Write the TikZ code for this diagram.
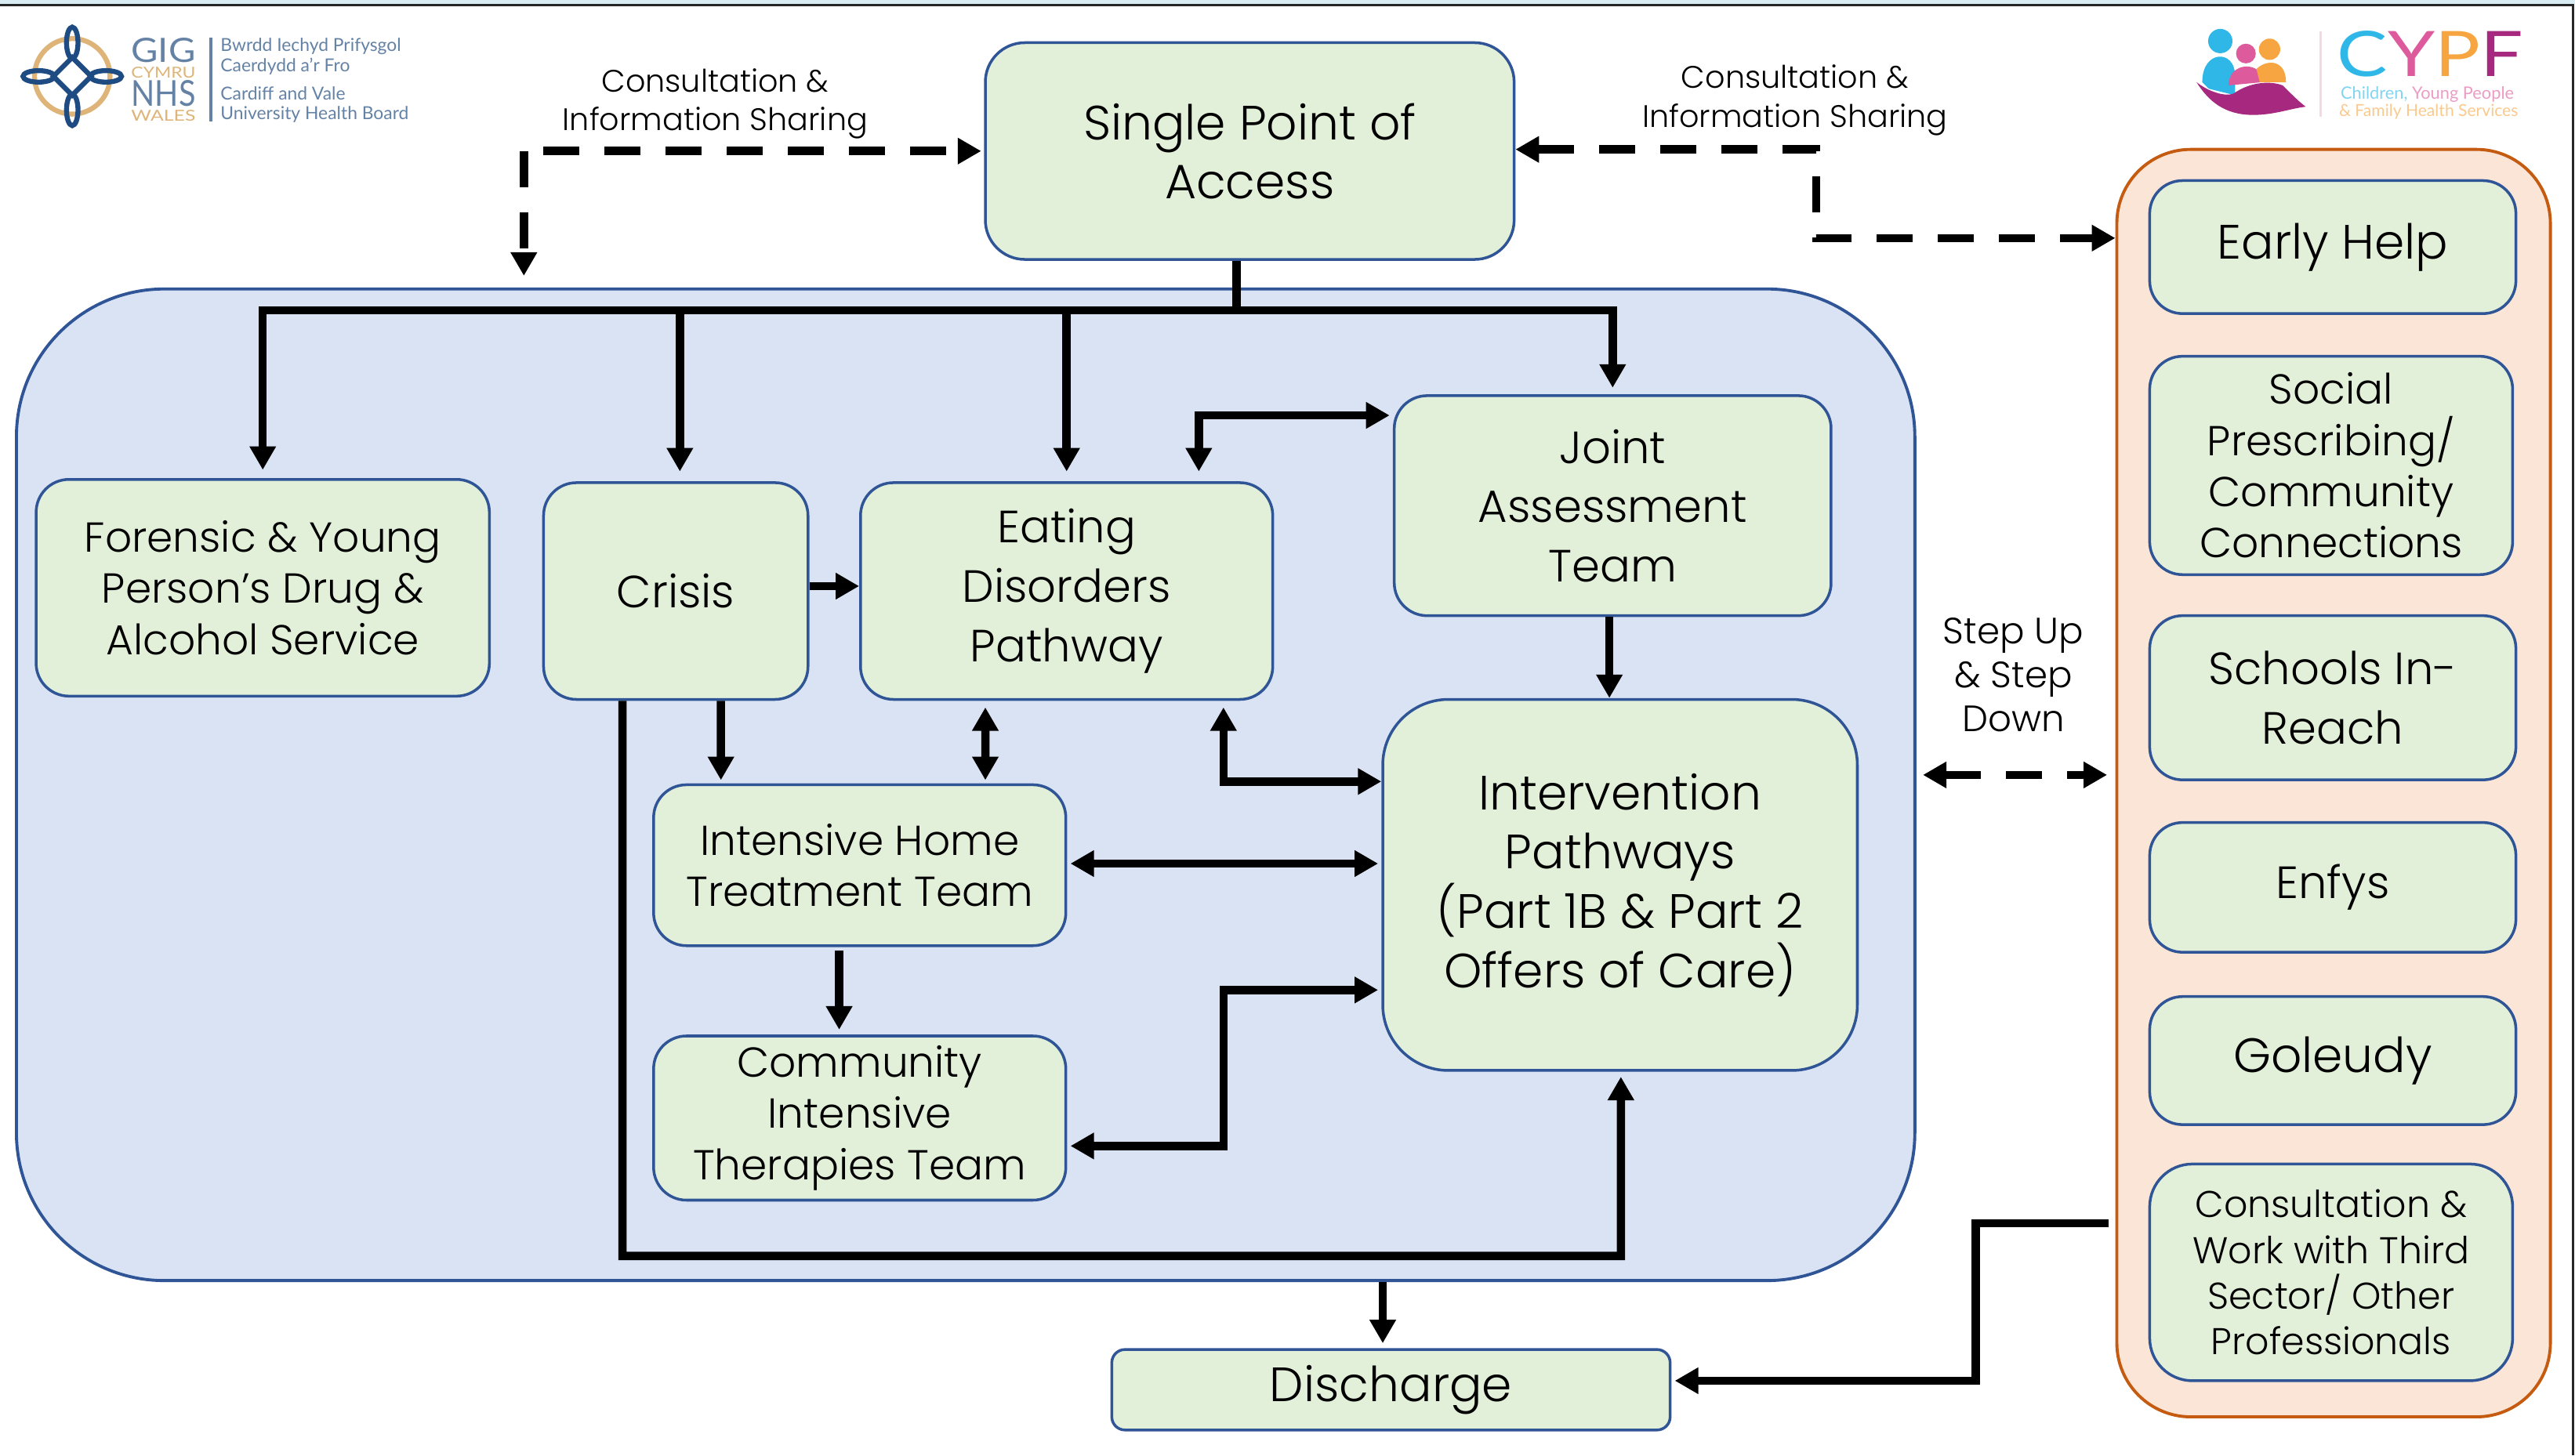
\documentclass[tikz,border=0pt]{standalone}
\usepackage{xcolor}
\usepackage{fontspec}
\usepackage{tikz}
\usetikzlibrary{arrows.meta}
\setmainfont{Poppins}[UprightFont=*-Light]
\newfontfamily\logofont{Lato}
\definecolor{boxblue}{RGB}{47,85,151}
\definecolor{boxgreen}{RGB}{226,240,217}
\definecolor{panelblue}{RGB}{218,227,243}
\definecolor{panelorange}{RGB}{251,229,214}
\definecolor{edgeorange}{RGB}{197,90,17}
\definecolor{barblue}{RGB}{218,236,243}
\definecolor{logoslate}{RGB}{100,130,165}
\definecolor{logotan}{RGB}{222,180,120}
\definecolor{logonavy}{RGB}{30,75,130}
\definecolor{cypfblue}{RGB}{47,183,232}
\definecolor{cypfpink}{RGB}{221,90,156}
\definecolor{cypforange}{RGB}{247,165,64}
\definecolor{cypfpurple}{RGB}{166,40,127}
\def\u{0.02095cm}
\tikzset{
  >={Triangle[length=0.3cm,width=0.32cm]},
  box/.style={draw=boxblue, fill=boxgreen, rectangle, line width=1pt, rounded corners=20*\u, align=center, inner sep=0pt},
  hugetext/.style={font=\fontsize{17.5}{21.5}\selectfont},
  bigtext/.style={font=\fontsize{16.4}{21.5}\selectfont},
  midtext/.style={font=\fontsize{15.2}{18.6}\selectfont},
  smalltext/.style={font=\fontsize{13.5}{16.6}\selectfont},
  labeltext/.style={font=\fontsize{11.3}{14}\selectfont, align=center, inner sep=0pt},
  logotext/.style={anchor=west, text=logoslate, inner sep=0pt, font=\logofont\fontsize{6.5}{7}\selectfont},
  link/.style={line width=3pt},
  dashlink/.style={line width=3pt, dash pattern=on 0.46cm off 0.32cm}
}
\begin{document}
\begin{tikzpicture}[x=\u, y=-\u]
\useasboundingbox (0,0) rectangle (1568,886.4);
% frame
\fill[barblue] (0,0) rectangle (1568,2.6);
\draw[black!85, line width=0.8pt] (0,3) -- (1566.8,3) -- (1566.8,886.4);

% panels
\node[draw=boxblue, fill=panelblue, rectangle, line width=1.1pt, rounded corners=90*\u, minimum width=1156*\u, minimum height=604*\u, inner sep=0pt] (services) at (588,478) {};
\node[draw=edgeorange, fill=panelorange, rectangle, line width=1.1pt, rounded corners=45*\u, minimum width=264*\u, minimum height=772*\u, inner sep=0pt] (cypf) at (1421,477) {};

% boxes
\node[box, hugetext, minimum width=322*\u, minimum height=132*\u, rounded corners=24*\u] (access) at (761,92) {Single Point of\\Access};
\node[box, midtext, minimum width=276*\u, minimum height=132*\u] (forensic) at (160,358) {Forensic \& Young\\Person’s Drug \&\\Alcohol Service};
\node[box, bigtext, minimum width=161*\u, minimum height=132*\u] (crisis) at (411.5,360) {Crisis};
\node[box, bigtext, minimum width=251*\u, minimum height=132*\u] (eating) at (649.5,360) {Eating\\Disorders\\Pathway};
\node[box, bigtext, minimum width=266*\u, minimum height=134*\u] (joint) at (982,308) {Joint\\Assessment\\Team};
\node[box, midtext, minimum width=251*\u, minimum height=98*\u] (home) at (523.5,527) {Intensive Home\\Treatment Team};
\node[box, midtext, minimum width=251*\u, minimum height=100*\u] (therapies) at (523.5,681) {Community\\Intensive\\Therapies Team};
\node[box, hugetext, minimum width=289*\u, minimum height=226*\u, rounded corners=40*\u] (intervention) at (986.5,539) {Intervention\\Pathways\\(Part 1B \& Part 2\\Offers of Care)};
\node[box, hugetext, minimum width=340*\u, minimum height=49*\u, rounded corners=8*\u] (discharge) at (847,846.5) {Discharge};
\node[box, hugetext, minimum width=223*\u, minimum height=81*\u] (earlyhelp) at (1420.5,150.5) {Early Help};
\node[box, midtext, minimum width=221*\u, minimum height=133*\u] (social) at (1419.5,283.5) {Social\\Prescribing/\\Community\\Connections};
\node[box, bigtext, minimum width=223*\u, minimum height=100*\u] (schools) at (1420.5,425) {Schools In-\\Reach};
\node[box, bigtext, minimum width=223*\u, minimum height=79*\u] (enfys) at (1420.5,540.5) {Enfys};
\node[box, hugetext, minimum width=223*\u, minimum height=78*\u] (goleudy) at (1420.5,646) {Goleudy};
\node[box, smalltext, minimum width=221*\u, minimum height=132*\u, rounded corners=26*\u] (thirdsector) at (1419.5,775) {Consultation \&\\Work with Third\\Sector/ Other\\Professionals};

% labels
\node[labeltext] (sharingleft) at (435.5,63) {Consultation \&\\Information Sharing};
\node[labeltext] (sharingright) at (1093,61) {Consultation \&\\Information Sharing};
\node[labeltext, font=\fontsize{13.3}{15.9}\selectfont] (stepping) at (1226,411) {Step Up\\\& Step\\Down};

% free ends
\coordinate (leftcorner) at (319,92);
\coordinate (leftstart) at (331,92);
\coordinate (leftend) at (319,168);
\coordinate (rightcorner) at (1106,91);
\coordinate (bus) at (753,189);
\coordinate (therapiesturn) at (745,603);
\coordinate (crisisturn) at (987,765);
\coordinate (thirdstart) at (1284,745);
\coordinate (thirdturn) at (1203,745);

% dashed links
\draw[dashlink, ->, shorten >=1pt] (leftstart) -- (access.west);
\draw[dashlink, ->] (leftcorner) -- (leftend);
\draw[dashlink, <->] ([yshift=1*\u]access.east) -- (rightcorner) |- ([yshift=332*\u]cypf.west);
\draw[dashlink, <->, shorten <=4*\u, shorten >=5*\u] ([yshift=6*\u]services.east) -- ([yshift=5*\u]cypf.west);

% links from the bus
\draw[link] ([xshift=-8*\u]access.south) -- (bus);
\draw[link, ->, shorten >=5*\u] (bus) -| (forensic.north);
\draw[link, ->, shorten >=6*\u] (bus) -| ([xshift=2.5*\u]crisis.north);
\draw[link, ->, shorten >=6*\u] (bus) -| (eating.north);
\draw[link, ->, shorten >=4*\u] (bus) -| (joint.north);

% links between the teams
\draw[link, <->, shorten <=6*\u, shorten >=2*\u] ([xshift=80.5*\u]eating.north) |- ([yshift=55*\u]joint.west);
\draw[link, ->] ([yshift=3*\u]crisis.east) -- ([yshift=3*\u]eating.west);
\draw[link, ->, shorten >=2*\u] ([xshift=27.5*\u]crisis.south) -- ([xshift=-84.5*\u]home.north);
\draw[link, <->, shorten <=4*\u, shorten >=2*\u] ([xshift=-49.5*\u]eating.south) -- ([xshift=76.5*\u]home.north);
\draw[link, <->, shorten <=4*\u] ([xshift=95.5*\u]eating.south) |- ([yshift=63*\u]intervention.west);
\draw[link, <->, shorten <=2*\u, shorten >=2*\u] ([yshift=1*\u]home.east) -- ([yshift=13*\u]intervention.west);
\draw[link, ->, shorten <=2*\u, shorten >=3*\u] ([xshift=-12.5*\u]home.south) -- ([xshift=-12.5*\u]therapies.north);
\draw[link, <->, shorten <=2*\u, shorten >=2*\u] ([yshift=-17*\u]therapies.east) -| (therapiesturn) -- ([yshift=-64*\u]intervention.west);
\draw[link, ->] ([xshift=-2*\u]joint.south) -- ([xshift=-6.5*\u]intervention.north);
\draw[link, ->, shorten >=3*\u] ([xshift=-32.5*\u]crisis.south) |- (crisisturn) -- ([xshift=0.5*\u]intervention.south);
\draw[link, ->, shorten >=3*\u] ([xshift=254*\u]services.south) -- ([xshift=-5*\u]discharge.north);
\draw[link, ->, shorten >=2*\u] (thirdstart) -- (thirdturn) |- ([yshift=5.5*\u]discharge.east);

% left logo
\draw[logotan, line width=1.8pt] (44,46.5) circle (23);
\foreach \rot in {0,90,180,270} {
  \draw[logonavy, line width=1.8pt, rotate around={\rot:(44,46.5)}] (44,26) ellipse (3.5 and 9.5);
}
\draw[logonavy, line width=1.8pt] (44,35) -- (55.5,46.5) -- (44,58) -- (32.5,46.5) -- cycle;
\node[text=logoslate, inner sep=0pt] (gig) at (99.5,30.5) {\resizebox{0.82cm}{0.31cm}{\logofont GIG}};
\node[text=logotan, inner sep=0pt] (cymru) at (99.5,44.2) {\resizebox{0.82cm}{0.14cm}{\logofont CYMRU}};
\node[text=logoslate, inner sep=0pt] (nhs) at (99.5,57) {\resizebox{0.82cm}{0.33cm}{\logofont NHS}};
\node[text=logotan, inner sep=0pt] (wales) at (99.5,70.5) {\resizebox{0.82cm}{0.14cm}{\logofont WALES}};
\draw[logoslate, line width=1pt] (128.5,23) -- (128.5,74);
\node[logotext] (boardcy) at (134,28) {Bwrdd Iechyd Prifysgol};
\node[logotext] (cardiffcy) at (134,40.5) {Caerdydd a’r Fro};
\node[logotext] (cardiff) at (134,57) {Cardiff and Vale};
\node[logotext] (board) at (134,69.5) {University Health Board};

% right logo
\fill[cypfblue] (1352,25) circle (7.4);
\fill[cypfblue] (1341,50) .. controls (1341,30) and (1361,30) .. (1361,46) -- (1361,58) -- (1345,54) -- cycle;
\fill[cypfpink] (1367.6,32.6) circle (6);
\fill[cypfpink] (1357,52) .. controls (1357,37) and (1378,37) .. (1378,50) -- cycle;
\fill[cypforange] (1382,30) circle (6.5);
\fill[cypforange] (1374,42) .. controls (1380,36) and (1392,36) .. (1392,50) -- (1376,50) -- cycle;
\fill[cypfpurple] (1337.5,50) .. controls (1345,56) and (1355,59) .. (1360,57) .. controls (1370,50) and (1382,49) .. (1390,52) .. controls (1396,58) and (1400,62) .. (1404,65) .. controls (1395,66) and (1385,70) .. (1372,70) .. controls (1355,70) and (1345,62) .. (1337.5,50) -- cycle;
\draw[cypfpink!25, line width=1pt] (1413,19) -- (1413,71);
\node[anchor=west, inner sep=0pt] (cypfname) at (1423,33) {\resizebox{2.37cm}{0.58cm}{\logofont\textcolor{cypfblue}{C}\textcolor{cypfpink}{Y}\textcolor{cypforange}{P}\textcolor{cypfpurple}{F}}};
\node[anchor=west, inner sep=0pt, font=\logofont\fontsize{6.2}{7}\selectfont] (cypfone) at (1425,57.5) {\textcolor{cypfblue!60}{Children,} \textcolor{cypfpink!60}{Young People}};
\node[anchor=west, inner sep=0pt, font=\logofont\fontsize{6}{7}\selectfont, text=cypforange!60] (cypftwo) at (1424,68) {\& Family Health Services};
\end{tikzpicture}
\end{document}
